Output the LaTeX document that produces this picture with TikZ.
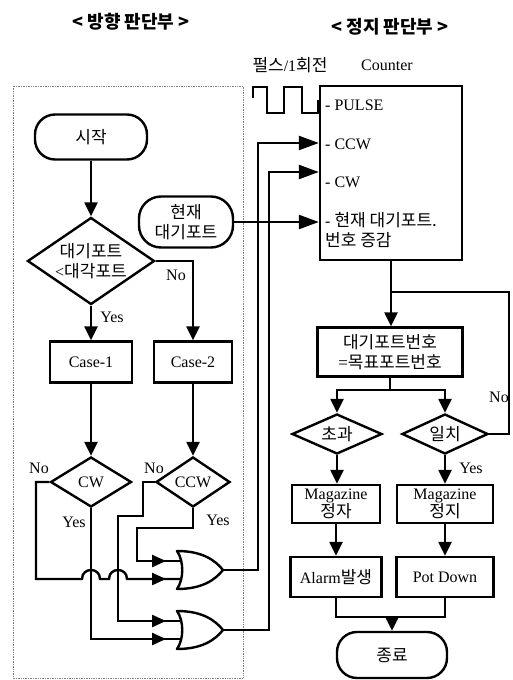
\documentclass[tikz,border=0pt]{standalone}
\usepackage{fontspec}
\setmainfont{Liberation Serif}
\newfontfamily\kr{Noto Sans CJK KR}
\newcommand\K[1]{{\kr\fontsize{17}{20}\selectfont #1}}
\usetikzlibrary{arrows.meta,shapes.geometric,decorations.markings,calc}
\begin{document}
\begin{tikzpicture}[x=1pt,y=-1pt,
  every node/.style={font=\fontsize{16}{20}\selectfont, inner sep=0pt},
  ln/.style={line width=2.4pt},
  arr/.style={ln, -{Triangle[length=14pt,width=13pt]}},
  harr/.style={ln, -{Triangle[length=20pt,width=14pt]}},
  box/.style={draw, ln, rectangle, align=center},
  term/.style={draw, ln, rectangle, rounded corners=20pt, align=center},
  dia/.style={draw, ln, diamond, align=center},
  krtxt/.style={font=\kr\fontsize{17}{20}\selectfont},
  midarr/.style={ln, postaction={decorate}, decoration={markings, mark=at position -15pt with {\arrow{Triangle[length=14pt,width=12pt]}}}},
  orgate/.pic={
    \draw[ln, line join=round] (-23,-19) .. controls (-16,-9) and (-16,9) .. (-23,19)
      .. controls (2,19) and (15,10) .. (23,0)
      .. controls (15,-10) and (2,-19) .. (-23,-19) -- cycle;
    \coordinate (-in1) at (-19,-9);
    \coordinate (-in2) at (-19,9);
    \coordinate (-out) at (23,0);
  }
]
\useasboundingbox[fill=white] (0,0) rectangle (512,680);

% frame of the direction part
\draw[densely dotted, gray, line width=0.7pt] (13,86) rectangle (243,678);

% titles
\node (t1) at (131,22) {\fontsize{18}{20}\selectfont\kr\bfseries < 방향 판단부 >};
\node (t2) at (390,27) {\fontsize{18}{20}\selectfont\kr\bfseries < 정지 판단부 >};
\node (pulselbl) at (290,65) {\K{펄스}/1\K{회전}};
\node (cntlbl) at (387,65) {Counter};

% pulse wave
\draw[ln] (253,98) -- (253,87) -- (267,87) -- (267,113) -- (284,113) -- (284,87) -- (302,87) -- (302,113) -- (318,113) -- (318,100);

% left part
\node[term, minimum width=112pt, minimum height=45pt, krtxt] (start) at (91,137) {시작};
\node[dia, minimum width=127pt, minimum height=87pt, aspect=1.46] (d1) at (91,261) {};
\node[align=center, krtxt] (d1txt) at (d1) {대기포트\\{\rmfamily\fontsize{16}{20}\selectfont<}대각포트};
\node[box, minimum width=82pt, minimum height=41pt] (case1) at (91,362) {Case-1};
\node[box, minimum width=78pt, minimum height=41pt] (case2) at (193,362) {Case-2};
\node[dia, minimum width=81pt, minimum height=50pt, aspect=1.6] (cw) at (91,482) {CW};
\node[dia, minimum width=74pt, minimum height=50pt, aspect=1.5] (ccw) at (193,482) {CCW};
\pic (g1) at (200,570) {orgate};
\pic (g2) at (200,630) {orgate};
\node[term, minimum width=94pt, minimum height=51pt, rounded corners=22pt, krtxt] (hyun) at (186,222) {현재\\대기포트};

% right part
\node[box, minimum width=142pt, minimum height=174pt] (counter) at (391,173) {};
\node[anchor=west] (cp) at (325,105) {- PULSE};
\node[anchor=west] (cc) at (325,144) {- CCW};
\node[anchor=west] (cwt) at (325,182) {- CW};
\node[anchor=west, align=left] (ch) at (325,230) {- \K{현재 대기포트.}\\\K{번호 증감}};
\node[box, minimum width=145pt, minimum height=49pt, krtxt] (eq) at (390,352) {대기포트번호\\{\rmfamily =}목표포트번호};
\node[dia, minimum width=90pt, minimum height=40pt, aspect=2.25, krtxt] (cho) at (337,434) {초과};
\node[dia, minimum width=86pt, minimum height=40pt, aspect=2.15, krtxt] (il) at (445,434) {일치};
\node[box, minimum width=88pt, minimum height=38pt, font=\fontsize{16}{17}\selectfont] (mag1) at (336,504) {Magazine\\\K{정자}};
\node[box, minimum width=96pt, minimum height=38pt, font=\fontsize{16}{17}\selectfont] (mag2) at (445,504) {Magazine\\\K{정지}};
\node[box, minimum width=91pt, minimum height=40pt] (alarm) at (336,577) {Alarm\K{발생}};
\node[box, minimum width=97pt, minimum height=40pt] (pot) at (445,577) {Pot Down};
\node[term, minimum width=110pt, minimum height=46pt, krtxt] (end) at (392,655) {종료};

% labels
\node (no1) at (176,275) {No};
\node (yes1) at (112,317) {Yes};
\node (no2) at (39,468) {No};
\node (no3) at (154,468) {No};
\node (yes2) at (74,522) {Yes};
\node (yes3) at (218,520) {Yes};
\node (no4) at (499,397) {No};
\node (yes4) at (471,468) {Yes};

% connectors left
\draw[arr] (start) -- (d1);
\draw[arr] (d1) -- (case1);
\draw[arr] (d1.east) -| (case2.north);
\draw[arr] (case1) -- (cw);
\draw[arr] (case2) -- (ccw);
\draw[midarr] (cw.west) -- (36,482) -- (36,579) -- (82,579)
  .. controls (82,567) and (100,567) .. (100,579) -- (109,579)
  .. controls (109,567) and (127,567) .. (127,579) -- (g1-in2);
\draw[midarr] (cw.south) |- (g2-in2);
\draw[midarr] (ccw.west) -- (143,482) -- (143,516) -- (118,516) |- (g2-in1);
\draw[midarr] (ccw.south) -- (193,528) -- (137,528) |- (g1-in1);
\draw[harr] (g1-out) -| (258,143) -- (counter.west |- 258,143);
\draw[harr] (g2-out) -| (269,172) -- (counter.west |- 269,172);
\draw[harr] (hyun.east) -- (hyun.east -| counter.west);

% connectors right
\draw[arr] (counter.south) -- (counter.south |- eq.north);
\coordinate (j1) at (counter.south |- 0,292);
\draw[ln] (il.east) -| (509,292) -- (j1);
\draw[ln] (eq.south) -- ++(0,12) coordinate (j2);
\draw[arr] (j2) -| (cho.north);
\draw[arr] (j2) -| (il.north);
\draw[arr] (cho.south) -- (cho.south |- mag1.north);
\draw[arr] (il.south) -- (il.south |- mag2.north);
\draw[arr] (mag1) -- (alarm);
\draw[arr] (mag2) -- (pot);
\coordinate (j3) at (end.north |- 0,617);
\draw[ln] (alarm.south) |- (j3);
\draw[ln] (pot.south) |- (j3);
\draw[arr] (j3) -- (end.north);
\end{tikzpicture}
\end{document}
